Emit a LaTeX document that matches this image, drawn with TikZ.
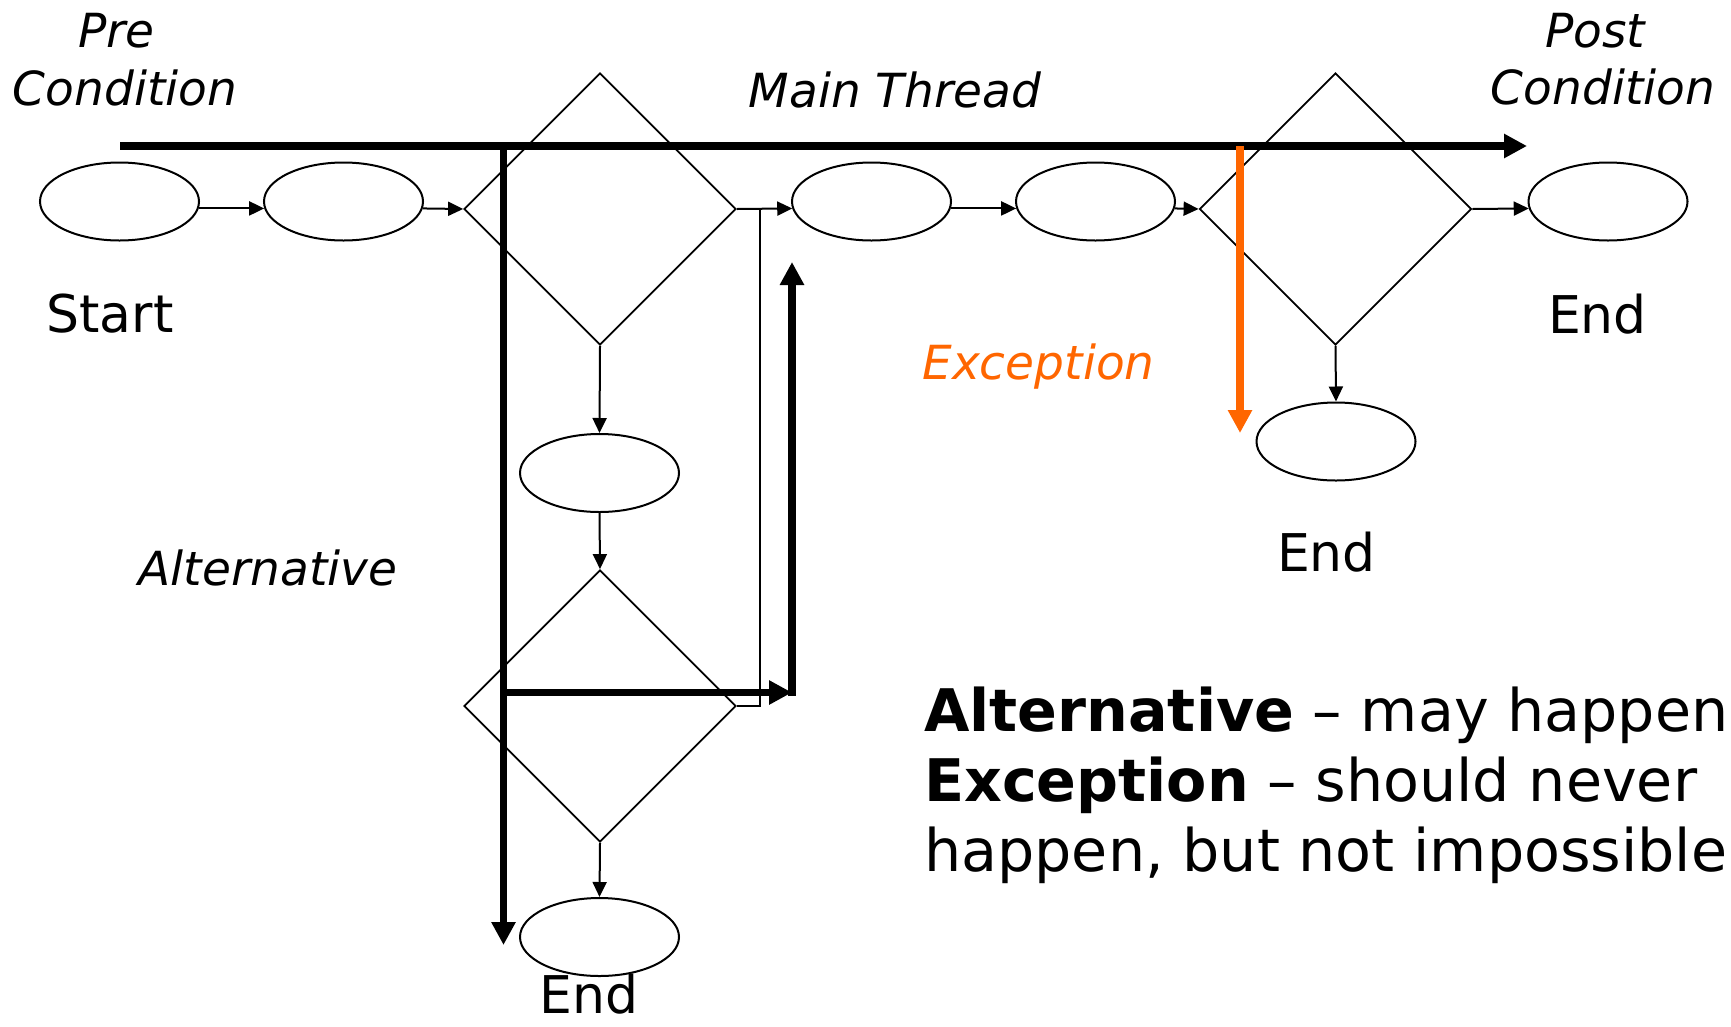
\documentclass[tikz,border=0pt]{standalone}
\usepackage{fontspec}
\setmainfont{DejaVu Sans}
\usetikzlibrary{shapes.geometric,arrows.meta}
\definecolor{excorange}{HTML}{FF6600}
\begin{document}
\begin{tikzpicture}[x=1pt,y=-1pt,
  oval/.style={draw,ellipse,line width=2pt,minimum width=159pt,minimum height=78pt,inner sep=0pt},
  decision/.style={draw,diamond,line width=1.8pt,minimum width=272pt,minimum height=272pt,inner sep=0pt},
  flow/.style={line width=2pt,-{Triangle[length=15pt,width=14pt]}},
  bigarrow/.style={line width=7.5pt,-{Triangle[length=23pt,width=23pt]}},
  ital/.style={font=\fontsize{47}{56}\selectfont\itshape,anchor=base,inner sep=0pt},
  big/.style={font=\fontsize{52}{62}\selectfont,anchor=base,inner sep=0pt},
  legend/.style={font=\fontsize{58.7}{70}\selectfont,anchor=base west,inner sep=0pt}]
\fill[white] (0,0) rectangle (1731,1026);
\useasboundingbox (0,0) rectangle (1731,1026);

% main row
\node[oval] (e1) at (119.5,201.5) {};
\node[oval] (e2) at (343.5,201.5) {};
\node[decision] (d1) at (600,209) {};
\node[oval] (e3) at (871.5,201.5) {};
\node[oval] (e4) at (1095.5,201.5) {};
\node[decision] (d2) at (1335.5,209) {};
\node[oval] (e5) at (1608,201.5) {};
% branches
\node[oval] (e6) at (1336,441.5) {};
\node[oval] (e7) at (599.5,473) {};
\node[decision] (d3) at (600,706) {};
\node[oval] (e8) at (599.5,937) {};

% thin connectors
\draw[flow] (e1.-5.5) -- (e2.185.5);
\draw[flow] (e2.-5.5) -- (d1.west);
\draw[flow] (d1.east) -- (e3.185.5);
\draw[flow] (e3.-5.5) -- (e4.185.5);
\draw[flow] (e4.-5.5) -- (d2.west);
\draw[flow] (d2.east) -- (e5.185.5);
\draw[flow] (d2.south) -- (e6.north);
\draw[flow] (d1.south) -- (e7.north);
\draw[flow] (e7.south) -- (d3.north);
\draw[flow] (d3.south) -- (e8.north);
\coordinate (j) at (760,209);
\draw[line width=2pt] (d3.east) -| (j);

% thick scenario arrows
\coordinate (ms) at (120,146);
\coordinate (me) at (1527,146);
\draw[bigarrow] (ms) -- (me);
\coordinate (as) at (503.5,146);
\coordinate (ae) at (503.5,945);
\draw[bigarrow] (as) -- (ae);
\coordinate (ah) at (503.5,692.5);
\coordinate (ar) at (792,692.5);
\draw[bigarrow] (ah) -- (ar);
\coordinate (ab) at (792,696);
\coordinate (at) at (792,262);
\draw[bigarrow] (ab) -- (at);
\coordinate (xs) at (1240,146);
\coordinate (xe) at (1240,433);
\draw[bigarrow,excorange] (xs) -- (xe);

% labels
\node[ital] (pre) at (116.5,47) {Pre};
\node[ital] (prec) at (125,105) {Condition};
\node[ital] (mt) at (895,107) {Main Thread};
\node[ital] (post) at (1595,47) {Post};
\node[ital] (postc) at (1603,104) {Condition};
\node[big] (start) at (110,332) {Start};
\node[big] (end1) at (1597.5,333) {End};
\node[ital,text=excorange] (exc) at (1038.5,379) {Exception};
\node[big] (end2) at (1326.5,571) {End};
\node[ital] (alt) at (268,585) {Alternative};
\node[big] (end3) at (589,1013) {End};

% legend
\node[legend] (l1) at (924,731) {\textbf{Alternative} – may happen};
\node[legend] (l2) at (924,801) {\textbf{Exception} – should never};
\node[legend] (l3) at (924,871) {happen, but not impossible};
\end{tikzpicture}
\end{document}
